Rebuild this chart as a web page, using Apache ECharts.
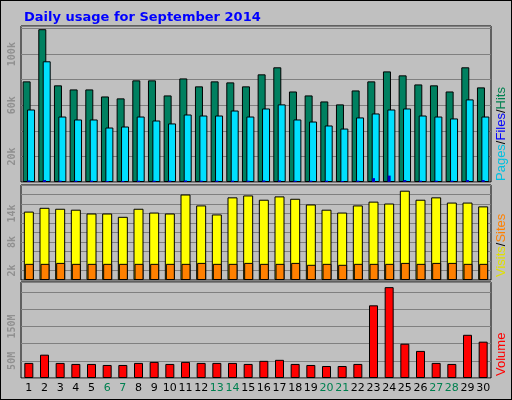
<!DOCTYPE html>
<html>
<head>
<meta charset="utf-8">
<script src="https://cdn.jsdelivr.net/npm/echarts@6/dist/echarts.min.js"></script>
<style>
  html, body { margin: 0; padding: 0; background: #c0c0c0; }
  #chart { width: 512px; height: 400px; box-sizing: border-box; border: 1px solid #000; }
</style>
</head>
<body>
<div id="chart"></div>
<script>
// data (k = thousands, M = megabytes)
const days = ['1','2','3','4','5','6','7','8','9','10','11','12','13','14','15',
              '16','17','18','19','20','21','22','23','24','25','26','27','28','29','30'];
const weekend = ['6','7','13','14','20','21','27','28'];
const hits = [78.7,119.5,75.6,72.4,72.4,66.9,65.4,79.5,79.5,67.7,81.0,74.8,78.7,77.9,74.8,
              84.2,89.7,70.8,67.7,63.0,60.7,71.6,78.7,86.5,83.4,76.3,75.6,70.8,89.7,74.0];
const files = [56.7,94.4,51.2,48.9,48.9,42.6,43.4,51.2,48.1,45.8,52.8,52.0,52.0,55.9,51.2,
               57.5,60.7,48.9,47.3,44.2,41.8,50.5,53.6,56.7,57.5,52.0,51.2,49.7,64.6,51.2];
const pages = [1.2,1.5,1.0,1.0,1.0,0.8,0.8,1.0,1.0,1.0,1.2,1.0,1.0,1.0,1.0,
               1.2,1.2,1.0,1.0,1.0,0.8,1.0,3.0,5.0,1.5,1.0,1.0,1.0,1.5,1.5];
const visits = [14.4,15.2,15.0,14.8,14.0,14.0,13.3,15.0,14.2,14.0,18.0,15.7,13.8,17.4,17.8,
                16.9,17.6,17.1,15.9,14.8,14.2,15.7,16.5,16.1,18.8,16.9,17.4,16.3,16.3,15.5];
const sites = [3.4,3.4,3.6,3.4,3.4,3.4,3.4,3.4,3.4,3.4,3.4,3.6,3.4,3.4,3.6,
               3.4,3.4,3.6,3.2,3.4,3.2,3.4,3.4,3.4,3.6,3.4,3.6,3.6,3.4,3.4];
const volume = [44,68,44,41,41,38,38,44,47,41,47,44,44,44,41,
                50,53,41,38,35,35,41,212,265,100,79,44,41,126,106];

let chart = echarts.init(document.getElementById('chart'));

const tickFont = { color: '#909090', fontFamily: 'DejaVu Sans Mono', fontWeight: 'bold', fontSize: 10, rotate: 90 };
const frame = { show: true, borderColor: '#000', borderWidth: 1, backgroundColor: '#c0c0c0' };
const splitLine = { show: true, lineStyle: { color: '#808080', width: 1 } };
const barBorder = { borderColor: '#000', borderWidth: 1 };

function catAxis(idx, showLabels) {
    return {
        type: 'category', gridIndex: idx, data: days,
        axisLine: { show: false }, axisTick: { show: false },
        axisLabel: {
            show: showLabels, interval: 0, fontSize: 11, fontFamily: 'DejaVu Sans', margin: 5,
            color: function (v) { return weekend.indexOf(v) >= 0 ? '#008050' : '#000'; }
        }
    };
}
function valAxis(idx, max, interval, shown, unit) {
    return {
        type: 'value', gridIndex: idx, min: 0, max: max, interval: interval,
        axisLine: { show: false }, axisTick: { show: false }, splitLine: splitLine,
        axisLabel: Object.assign({}, tickFont, {
            margin: 4,
            formatter: function (v) { return shown.indexOf(v) >= 0 ? v + unit : ''; }
        })
    };
}

let pagesAxis = catAxis(0, false);
pagesAxis.show = false;

let option = {
    backgroundColor: '#c0c0c0',
    animation: false,
    title: {
        text: 'Daily usage for September 2014', left: 18, top: 5,
        textStyle: { color: '#0000ff', fontFamily: 'DejaVu Sans', fontWeight: 'bold', fontSize: 13 }
    },
    grid: [
        Object.assign({ left: 20, right: 20, top: 25, height: 156 }, frame),
        Object.assign({ left: 20, right: 20, top: 184, height: 95 }, frame),
        Object.assign({ left: 20, right: 20, top: 281, height: 96 }, frame)
    ],
    xAxis: [catAxis(0, false), catAxis(1, false), catAxis(2, true), pagesAxis],
    yAxis: [
        valAxis(0, 122, 20, [20, 60, 100], 'k'),
        valAxis(1, 20, 2, [2, 8, 14], 'k'),
        valAxis(2, 280, 50, [50, 150], 'M')
    ],
    graphic: [
        { type: 'text', x: 494, y: 180, rotation: Math.PI / 2,
          style: { text: '{a|Pages}{s|/}{b|Files}{s|/}{c|Hits}',
                   rich: { a: { fill: '#00c0e0', fontSize: 13 }, b: { fill: '#0000ff', fontSize: 13 },
                           c: { fill: '#008050', fontSize: 13 }, s: { fill: '#000', fontSize: 13 } } } },
        { type: 'text', x: 494, y: 276, rotation: Math.PI / 2,
          style: { text: '{a|Visits}{s|/}{b|Sites}',
                   rich: { a: { fill: '#e0e000', fontSize: 13 }, b: { fill: '#ff8000', fontSize: 13 },
                           s: { fill: '#000', fontSize: 13 } } } },
        { type: 'text', x: 494, y: 375, rotation: Math.PI / 2,
          style: { text: 'Volume', fill: '#ff0000', fontSize: 13 } }
    ],
    series: [
        { name: 'Hits', type: 'bar', xAxisIndex: 0, yAxisIndex: 0, data: hits,
          barWidth: 8, barGap: '-45%', itemStyle: Object.assign({ color: '#008060' }, barBorder) },
        { name: 'Files', type: 'bar', xAxisIndex: 0, yAxisIndex: 0, data: files,
          barWidth: 8, barGap: '-45%', itemStyle: Object.assign({ color: '#00e0ff' }, barBorder) },
        { name: 'Pages', type: 'bar', xAxisIndex: 3, yAxisIndex: 0, data: pages,
          barWidth: 3, itemStyle: { color: '#0000c0' } },
        { name: 'Visits', type: 'bar', xAxisIndex: 1, yAxisIndex: 1, data: visits,
          barWidth: 10, barGap: '-90%', itemStyle: Object.assign({ color: '#ffff00' }, barBorder) },
        { name: 'Sites', type: 'bar', xAxisIndex: 1, yAxisIndex: 1, data: sites,
          barWidth: 9, barGap: '-90%', itemStyle: Object.assign({ color: '#ff8000' }, barBorder) },
        { name: 'Volume', type: 'bar', xAxisIndex: 2, yAxisIndex: 2, data: volume,
          barWidth: 9, itemStyle: Object.assign({ color: '#ff0000' }, barBorder) }
    ]
};
chart.setOption(option);
</script>
</body>
</html>
